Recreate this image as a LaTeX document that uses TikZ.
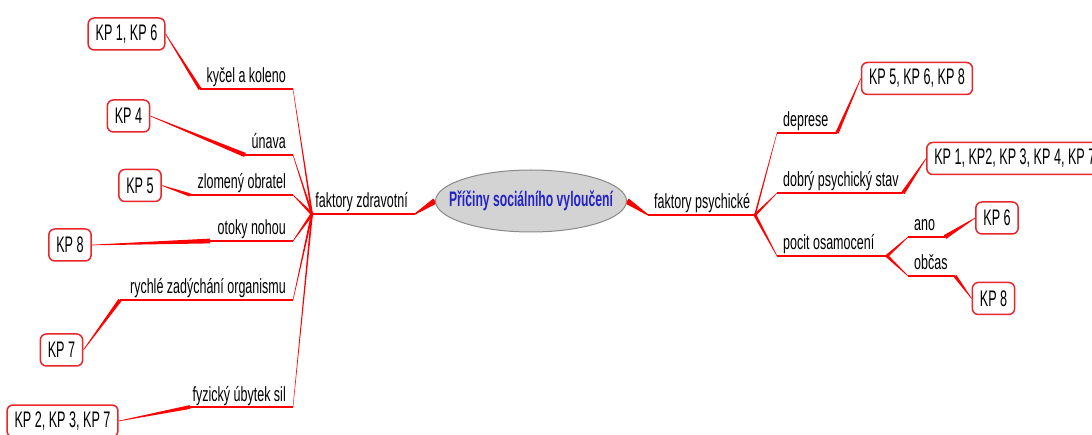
\documentclass[tikz,border=0pt]{standalone}
\usepackage{fontspec}
\setmainfont{Liberation Sans}
\newfontfamily\topfont{Liberation Sans}[FakeStretch=0.61]
\newfontfamily\boxfont{Liberation Sans}[FakeStretch=0.56]
\newfontfamily\corefont{Liberation Sans}[FakeStretch=0.58]
\usetikzlibrary{calc,shapes.geometric,backgrounds}
\definecolor{lred}{HTML}{FF0000}
\definecolor{boxred}{HTML}{E8262B}
\definecolor{ctext}{HTML}{2323C8}
\definecolor{ellfill}{HTML}{D3D3D3}
\definecolor{elldraw}{HTML}{8A8A8A}
\newcommand{\taper}[4]{\fill[lred] ($(#1)!#3!90:(#2)$) -- ($(#2)!#4!-90:(#1)$) -- ($(#2)!#4!90:(#1)$) -- ($(#1)!#3!-90:(#2)$) -- cycle;}
\newcommand{\topicL}[5]{%
  \coordinate (#1L) at (#2,#4); \coordinate (#1R) at (#3,#4);
  \node[topic, anchor=base east] (#1) at (#3-7,#4-6) {#5};
  \draw[uline] (#1L) -- (#1R);}
\newcommand{\topicR}[5]{%
  \coordinate (#1L) at (#2,#4); \coordinate (#1R) at (#3,#4);
  \node[topic, anchor=base west] (#1) at (#2+6,#4-6) {#5};
  \draw[uline] (#1L) -- (#1R);}
\tikzset{
  topic/.style={font=\topfont\fontsize{20.5}{23}\selectfont, inner sep=0pt, text=black},
  uline/.style={draw=lred, line width=2.8pt},
  kp/.style={draw=boxred, line width=1.5pt, rounded corners=6pt, fill=white,
    inner xsep=7.5pt, inner ysep=0pt, minimum height=32pt,
    font=\boxfont\fontsize{22.5}{24}\selectfont, text=black},
  core/.style={ellipse, minimum width=191pt, minimum height=62pt, fill=ellfill,
    draw=elldraw, line width=1pt, inner sep=0pt},
  coretext/.style={font=\corefont\bfseries\fontsize{21}{23}\selectfont, text=ctext, inner sep=0pt}
}
\begin{document}
\begin{tikzpicture}[x=1pt,y=-1pt]
\useasboundingbox (0,0) rectangle (1092,435);
\clip (0,0) rectangle (1092,435);
% central node
\node[core] (center) at (531,201) {};
\node[coretext] (title) at (center) {Příčiny sociálního vyloučení};
% boxes
\node[kp] (kp16) at (126.5,34) {KP 1, KP 6};
\node[kp] (kp4) at (128.5,116) {KP 4};
\node[kp] (kp5) at (140,185.5) {KP 5};
\node[kp] (kp8L) at (70,245) {KP 8};
\node[kp] (kp7) at (61.5,350) {KP 7};
\node[kp] (kp237) at (62.5,421) {KP 2, KP 3, KP 7};
\node[kp] (kp568) at (917,78.5) {KP 5, KP 6, KP 8};
\node[kp, anchor=west] (kp12347) at (926,158.5) {KP 1, KP2, KP 3, KP 4, KP 7};
\node[kp] (kp6) at (997,218) {KP 6};
\node[kp] (kp8R) at (993.5,298.5) {KP 8};
\begin{pgfonlayer}{background}
\fill[white] (0,0) rectangle (1092,435);
% topics left
\topicL{fz}{312}{415}{214}{faktory zdravotní}
\topicL{kyc}{200}{293}{89}{kyčel a koleno}
\topicL{una}{245}{293}{155}{únava}
\topicL{zlo}{190}{293}{195}{zlomený obratel}
\topicL{oto}{210}{293}{241}{otoky nohou}
\topicL{ryc}{120}{293}{300}{rychlé zadýchání organismu}
\topicL{fyz}{190}{293}{407}{fyzický úbytek sil}
% topics right
\topicR{fp}{648}{755}{215}{faktory psychické}
\topicR{dep}{777}{837}{133}{deprese}
\topicR{dob}{777}{903}{193}{dobrý psychický stav}
\topicR{poc}{777}{887}{256}{pocit osamocení}
\topicR{ano}{908}{945}{237}{ano}
\topicR{obc}{908}{955}{276}{občas}
% connectors from core
\taper{center.west}{fzR}{3pt}{0.6pt}
\taper{center.east}{fpL}{3pt}{0.6pt}
% left hub
\taper{fzL}{kycR}{0.9pt}{0.2pt}
\taper{fzL}{unaR}{1.1pt}{0.25pt}
\taper{fzL}{zloR}{1.5pt}{0.3pt}
\taper{fzL}{otoR}{1.5pt}{0.3pt}
\taper{fzL}{rycR}{1.1pt}{0.25pt}
\taper{fzL}{fyzR}{0.9pt}{0.2pt}
% left boxes
\taper{kycL}{kp16.east}{1.7pt}{0.3pt}
\taper{unaL}{kp4.east}{2.2pt}{0.3pt}
\taper{zloL}{kp5.east}{1.7pt}{0.3pt}
\taper{otoL}{kp8L.east}{2.4pt}{0.3pt}
\taper{rycL}{kp7.east}{1.9pt}{0.3pt}
\taper{fyzL}{kp237.east}{1.9pt}{0.3pt}
% right hub
\taper{fpR}{depL}{0.8pt}{0.2pt}
\taper{fpR}{dobL}{1.3pt}{0.25pt}
\taper{fpR}{pocL}{1.5pt}{0.3pt}
\taper{pocR}{anoL}{1.5pt}{0.3pt}
\taper{pocR}{obcL}{1.5pt}{0.3pt}
% right boxes
\taper{depR}{kp568.west}{1.7pt}{0.3pt}
\taper{dobR}{kp12347.west}{1.9pt}{0.3pt}
\taper{anoR}{kp6.west}{2.2pt}{0.3pt}
\taper{obcR}{kp8R.west}{1.7pt}{0.3pt}
\end{pgfonlayer}
\end{tikzpicture}
\end{document}
